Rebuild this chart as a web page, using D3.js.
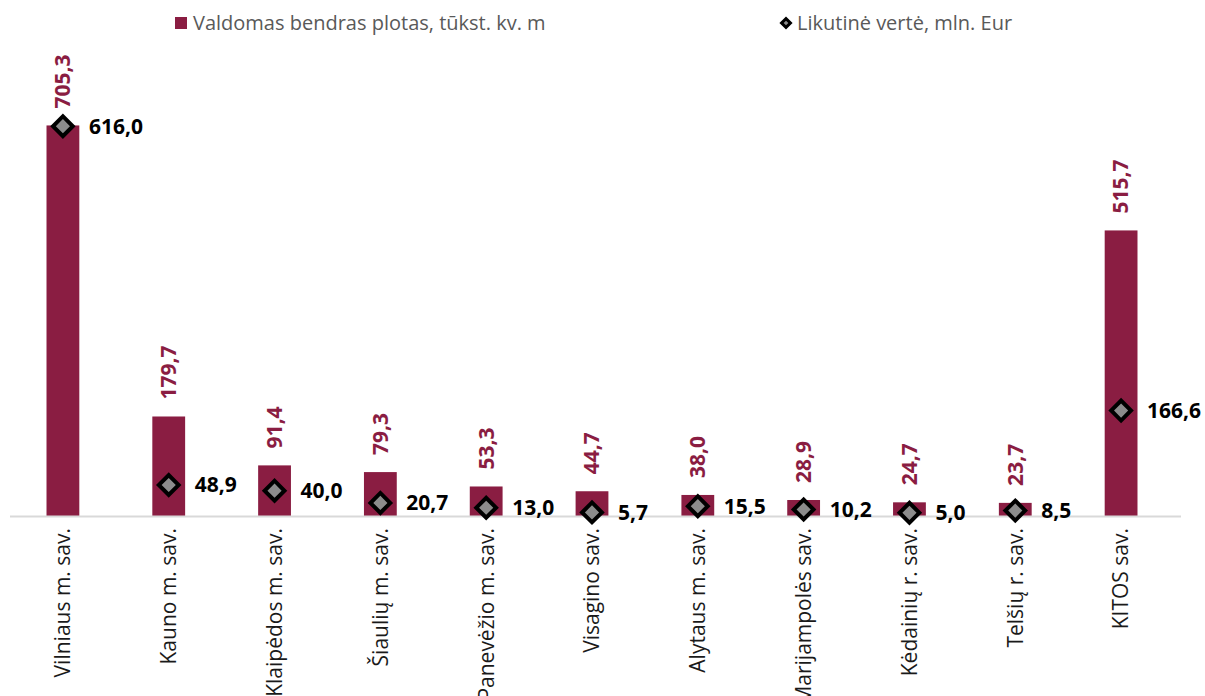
<!DOCTYPE html>
<html>
<head>
<meta charset="utf-8">
<script src="https://cdn.jsdelivr.net/npm/d3@7"></script>
<style>
  body { margin: 0; background: #fff; }
  svg { display: block; font-family: "Open Sans", "Noto Sans", sans-serif; }
</style>
</head>
<body>
<script>
// savivaldybės
const categories = [
  "Vilniaus m. sav.", "Kauno m. sav.", "Klaipėdos m. sav.", "Šiaulių m. sav.",
  "Panevėžio m. sav.", "Visagino sav.", "Alytaus m. sav.", "Marijampolės sav.",
  "Kėdainių r. sav.", "Telšių r. sav.", "KITOS sav."
];
// Valdomas bendras plotas, tūkst. kv. m
const areaValues = [705.3, 179.7, 91.4, 79.3, 53.3, 44.7, 38.0, 28.9, 24.7, 23.7, 515.7];
// Likutinė vertė, mln. Eur
const residualValues = [616.0, 48.9, 40.0, 20.7, 13.0, 5.7, 15.5, 10.2, 5.0, 8.5, 166.6];

const seriesNames = ["Valdomas bendras plotas, tūkst. kv. m", "Likutinė vertė, mln. Eur"];

const width = 1205, height = 696;
const margin = { top: 73, left: 10, right: 32, bottom: 180 };
const barColor = "#8a1d42";
const fmt = v => v.toFixed(1).replace(".", ",");

const svg = d3.select("body").append("svg")
  .attr("width", width)
  .attr("height", height);

const x = d3.scaleBand()
  .domain(categories)
  .range([margin.left, 1174])
  .paddingInner(0.69)
  .paddingOuter(0.345);

const yBar = d3.scaleLinear().domain([0, 800]).range([height - margin.bottom, margin.top]);
const yDot = d3.scaleLinear().domain([0, 700]).range([height - margin.bottom, margin.top]);

const data = categories.map((c, i) => ({ cat: c, area: areaValues[i], val: residualValues[i] }));

// bars
svg.append("g").selectAll("rect")
  .data(data)
  .join("rect")
  .attr("x", d => x(d.cat))
  .attr("y", d => yBar(d.area))
  .attr("width", x.bandwidth())
  .attr("height", d => yBar(0) - yBar(d.area))
  .attr("fill", barColor);

// baseline
svg.append("line")
  .attr("x1", margin.left)
  .attr("x2", width - 24)
  .attr("y1", yBar(0) + 0.5)
  .attr("y2", yBar(0) + 0.5)
  .attr("stroke", "#d9d9d9")
  .attr("stroke-width", 2);

// x axis labels, rotated
const xAxis = svg.append("g")
  .attr("transform", "translate(0," + (yBar(0) + 12) + ")")
  .call(d3.axisBottom(x).tickSize(0).tickPadding(0));
xAxis.select(".domain").remove();
xAxis.selectAll("text")
  .attr("transform", "rotate(-90)")
  .attr("x", 0)
  .attr("y", 0)
  .attr("dy", "0.35em")
  .style("text-anchor", "end")
  .style("font-size", "21px")
  .style("font-family", "'Open Sans', sans-serif")
  .attr("fill", "#1a1a1a");

// bar value labels
svg.append("g").selectAll("text")
  .data(data)
  .join("text")
  .attr("transform", d => "translate(" + (x(d.cat) + x.bandwidth() / 2) + "," + (yBar(d.area) - 17) + ") rotate(-90)")
  .attr("dy", "0.35em")
  .attr("fill", barColor)
  .style("font-size", "21px")
  .style("font-weight", "bold")
  .text(d => fmt(d.area));

// diamonds
const diamond = d3.symbol().type(d3.symbolSquare).size(196);
svg.append("g").selectAll("path")
  .data(data)
  .join("path")
  .attr("d", diamond)
  .attr("transform", d => "translate(" + (x(d.cat) + x.bandwidth() / 2) + "," + yDot(d.val) + ") rotate(45)")
  .attr("fill", "#8c8c8c")
  .attr("stroke", "#000")
  .attr("stroke-width", 4)
  .attr("stroke-linejoin", "miter");

svg.append("g").selectAll("text")
  .data(data)
  .join("text")
  .attr("x", d => x(d.cat) + x.bandwidth() / 2 + 26)
  .attr("y", d => yDot(d.val))
  .attr("dy", "0.35em")
  .attr("fill", "#000")
  .style("font-size", "21px")
  .style("font-weight", "bold")
  .text(d => fmt(d.val));

// legend
const legend = svg.append("g");
legend.append("rect")
  .attr("x", 175).attr("y", 17)
  .attr("width", 12).attr("height", 12)
  .attr("fill", barColor);
legend.append("text")
  .attr("x", 193).attr("y", 23)
  .attr("dy", "0.35em")
  .attr("fill", "#595959")
  .style("font-size", "20px")
  .text(seriesNames[0]);
legend.append("path")
  .attr("d", d3.symbol().type(d3.symbolSquare).size(40))
  .attr("transform", "translate(786,23) rotate(45)")
  .attr("fill", "#8c8c8c")
  .attr("stroke", "#000")
  .attr("stroke-width", 3);
legend.append("text")
  .attr("x", 797).attr("y", 23)
  .attr("dy", "0.35em")
  .attr("fill", "#595959")
  .style("font-size", "20px")
  .text(seriesNames[1]);
</script>
</body>
</html>
